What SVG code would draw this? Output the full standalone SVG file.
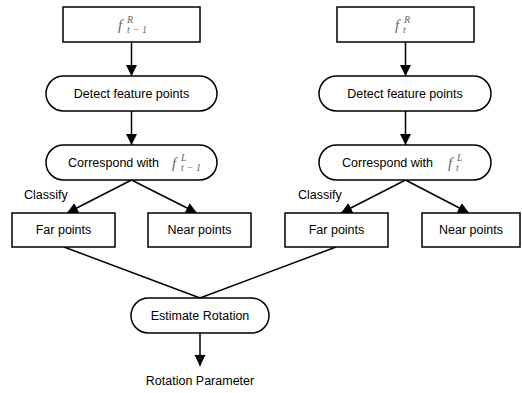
<svg xmlns="http://www.w3.org/2000/svg" width="522" height="393" viewBox="0 0 522 393">
<style>
.box{fill:#fff;stroke:#000;stroke-width:1.5}
.t{font-family:"Liberation Sans",Arial,sans-serif;font-size:12.5px;fill:#000;text-anchor:middle}
.tl{font-family:"Liberation Sans",Arial,sans-serif;font-size:12.5px;fill:#000}
.m{font-family:"Liberation Serif","Times New Roman",serif;font-style:italic;fill:#666}
.c{stroke:#000;stroke-width:1.5;fill:none}
</style>
<defs>
<marker id="ah" markerUnits="userSpaceOnUse" markerWidth="12" markerHeight="12" viewBox="0 0 12 12" refX="11" refY="6" orient="auto">
<path d="M0,0.5 L11,6 L0,11.5 Z" fill="#000"/>
</marker>
</defs>
<g id="connectors">
<line class="c" x1="131.5" y1="42" x2="131.5" y2="76" marker-end="url(#ah)"/>
<line class="c" x1="131.5" y1="111" x2="131.5" y2="145" marker-end="url(#ah)"/>
<line class="c" x1="131.5" y1="180" x2="67" y2="213" marker-end="url(#ah)"/>
<line class="c" x1="131.5" y1="180" x2="197" y2="213" marker-end="url(#ah)"/>
<line class="c" x1="405.5" y1="42" x2="405.5" y2="76" marker-end="url(#ah)"/>
<line class="c" x1="405.5" y1="111" x2="405.5" y2="145" marker-end="url(#ah)"/>
<line class="c" x1="405.5" y1="180" x2="341" y2="213" marker-end="url(#ah)"/>
<line class="c" x1="405.5" y1="180" x2="469" y2="213" marker-end="url(#ah)"/>
<line class="c" x1="64" y1="247" x2="200" y2="298"/>
<line class="c" x1="336" y1="247" x2="200" y2="298"/>
<line class="c" x1="200" y1="333" x2="200" y2="366" marker-end="url(#ah)"/>
</g>
<g id="fR_t1">
<rect class="box" x="63" y="7" width="137" height="35"/>
<text class="m" x="118" y="30" font-size="15">f</text>
<text class="m" x="127" y="23" font-size="10">R</text>
<text class="m" x="127" y="33" font-size="10" textLength="20" lengthAdjust="spacing">t−1</text>
</g>
<g id="detect_l">
<rect class="box" x="46" y="76" width="171" height="35" rx="17.5" ry="17.5"/>
<text class="t" x="131.5" y="98">Detect feature points</text>
</g>
<g id="corr_l">
<rect class="box" x="46" y="145" width="171" height="35" rx="17.5" ry="17.5"/>
<text class="tl" x="68" y="167">Correspond with</text>
<text class="m" x="172" y="168" font-size="15">f</text>
<text class="m" x="181" y="161" font-size="10">L</text>
<text class="m" x="181" y="171" font-size="10" textLength="20" lengthAdjust="spacing">t−1</text>
</g>
<text class="tl" x="24" y="199">Classify</text>
<g id="far_l">
<rect class="box" x="12" y="213" width="103" height="34"/>
<text class="t" x="63.5" y="234">Far points</text>
</g>
<g id="near_l">
<rect class="box" x="148" y="213" width="103" height="34"/>
<text class="t" x="199.5" y="234">Near points</text>
</g>
<g id="fR_t">
<rect class="box" x="337" y="7" width="137" height="35"/>
<text class="m" x="395" y="30" font-size="15">f</text>
<text class="m" x="404" y="23" font-size="10">R</text>
<text class="m" x="403" y="33" font-size="10">t</text>
</g>
<g id="detect_r">
<rect class="box" x="319" y="76" width="172" height="35" rx="17.5" ry="17.5"/>
<text class="t" x="405" y="98">Detect feature points</text>
</g>
<g id="corr_r">
<rect class="box" x="319" y="145" width="172" height="35" rx="17.5" ry="17.5"/>
<text class="tl" x="342" y="167">Correspond with</text>
<text class="m" x="448" y="168" font-size="15">f</text>
<text class="m" x="457" y="161" font-size="10">L</text>
<text class="m" x="456" y="171" font-size="10">t</text>
</g>
<text class="tl" x="298" y="199">Classify</text>
<g id="far_r">
<rect class="box" x="285" y="213" width="103" height="34"/>
<text class="t" x="336.5" y="234">Far points</text>
</g>
<g id="near_r">
<rect class="box" x="422" y="213" width="98" height="34"/>
<text class="t" x="471" y="234">Near points</text>
</g>
<g id="estimate">
<rect class="box" x="131" y="298" width="138" height="35" rx="17.5" ry="17.5"/>
<text class="t" x="200" y="320">Estimate Rotation</text>
</g>
<text class="t" x="200" y="385">Rotation Parameter</text>
</svg>
